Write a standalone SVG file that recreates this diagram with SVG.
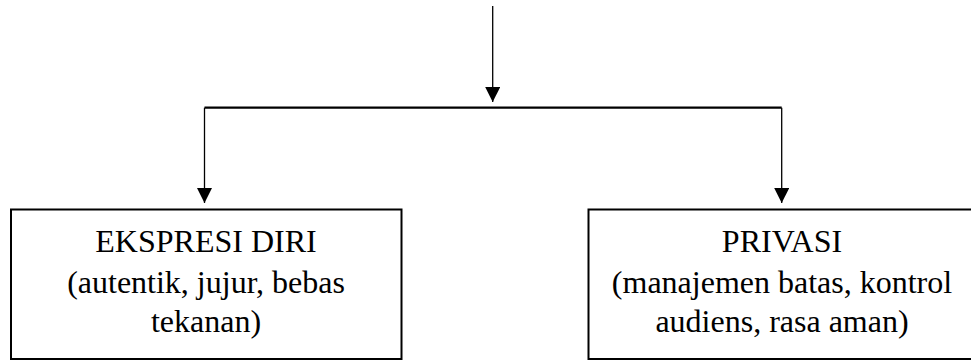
<svg xmlns="http://www.w3.org/2000/svg" width="971" height="361" viewBox="0 0 971 361">
<defs>
<style>
.box{fill:#fff;stroke:#000;stroke-width:2}
.t{font-family:'Liberation Serif','Times New Roman',Times,serif;font-size:32px;fill:#000;text-anchor:middle}
.ln{fill:none;stroke:#000;stroke-width:1.3}
.bar{fill:none;stroke:#000;stroke-width:2.2}
</style>
<marker id="ah" viewBox="0 0 15 15" refX="15" refY="7.5" markerWidth="15" markerHeight="15" markerUnits="userSpaceOnUse" orient="auto">
<path d="M0,0 L15,7.5 L0,15 Z" fill="#000"/>
</marker>
</defs>
<rect width="971" height="361" fill="#fff"/>
<g id="connectors">
<line class="ln" x1="492.7" y1="6" x2="492.7" y2="102" marker-end="url(#ah)"/>
<polyline class="bar" points="204.5,107.7 781.7,107.7"/>
<line class="ln" x1="204.5" y1="107.7" x2="204.5" y2="203" marker-end="url(#ah)"/>
<line class="ln" x1="781.7" y1="107.7" x2="781.7" y2="203" marker-end="url(#ah)"/>
</g>
<g id="node-ekspresi">
<rect class="box" x="11" y="209.5" width="390.5" height="149.5"/>
<text class="t" x="206" y="252">EKSPRESI DIRI</text>
<text class="t" x="206" y="293">(autentik, jujur, bebas</text>
<text class="t" x="206" y="332">tekanan)</text>
</g>
<g id="node-privasi">
<rect class="box" x="588.5" y="209.5" width="388" height="149.5"/>
<text class="t" x="782" y="252">PRIVASI</text>
<text class="t" x="782" y="293">(manajemen batas, kontrol</text>
<text class="t" x="782" y="332">audiens, rasa aman)</text>
</g>
</svg>
